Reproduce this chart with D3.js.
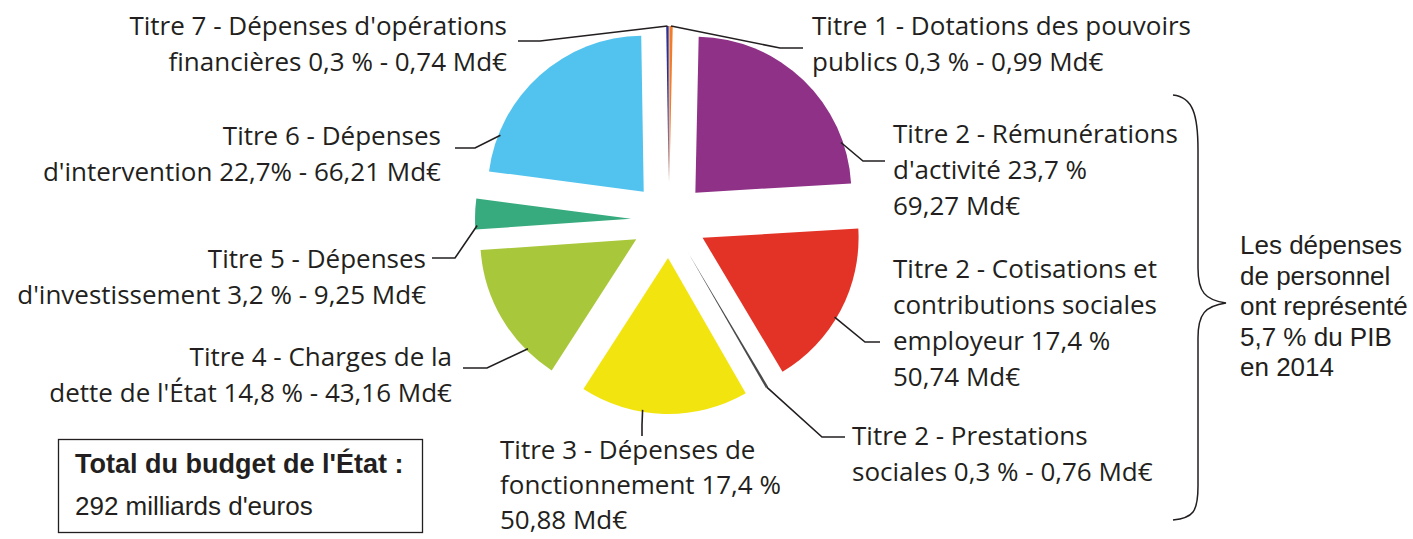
<!DOCTYPE html>
<html>
<head>
<meta charset="utf-8">
<script src="https://cdn.jsdelivr.net/npm/d3@7"></script>
<style>
  body { margin: 0; background: #fff; }
  svg { display: block; }
  .lbl { font-family: "Open Sans", sans-serif; font-size: 26px; fill: #231f20; }
  .note { font-family: "Liberation Sans", Arial, sans-serif; font-size: 26px; fill: #231f20; }
</style>
</head>
<body>
<script>
// budget de l'Etat 2014, en Md€
var titres = ["Titre 1", "Titre 2 Rém.", "Titre 2 Cotis.", "Titre 2 Prest.", "Titre 3",
              "Titre 4", "Titre 5", "Titre 6", "Titre 7"];
var montants = [0.99, 69.27, 50.74, 0.76, 50.88, 43.16, 9.25, 66.21, 0.74];
var couleurs = ["#f07d2b", "#8e3187", "#e33326", "#4a4a4a", "#f2e40e",
                "#a8c73a", "#37ab7e", "#52c3ee", "#2e3192"];
var etiquettes = [
  ["Titre 1 - Dotations des pouvoirs", "publics 0,3 % - 0,99 Md€"],
  ["Titre 2 - Rémunérations", "d'activité 23,7 %", "69,27 Md€"],
  ["Titre 2 - Cotisations et", "contributions sociales", "employeur 17,4 %", "50,74 Md€"],
  ["Titre 2 - Prestations", "sociales 0,3 % - 0,76 Md€"],
  ["Titre 3 - Dépenses de", "fonctionnement 17,4 %", "50,88 Md€"],
  ["Titre 4 - Charges de la", "dette de l'État 14,8 % - 43,16 Md€"],
  ["Titre 5 - Dépenses", "d'investissement 3,2 % - 9,25 Md€"],
  ["Titre 6 - Dépenses", "d'intervention 22,7% - 66,21 Md€"],
  ["Titre 7 - Dépenses d'opérations", "financières 0,3 % - 0,74 Md€"]
];
var total = ["Total du budget de l'État :", "292 milliards d'euros"];
var note = ["Les dépenses", "de personnel", "ont représenté", "5,7 % du PIB", "en 2014"];

// placement des étiquettes : angle du départ du trait (deg), coude, fin, texte
var placement = [
  {a: null, coude: [780, 48], fin: [803, 48], x: 812, y: 35, ancre: "start"},
  {a: 71, coude: [863, 161], fin: [885, 161], x: 893, y: 143, ancre: "start"},
  {a: 121, coude: [865, 342], fin: [880, 342], x: 893, y: 278, ancre: "start"},
  {a: null, coude: [822, 437], fin: [845, 437], x: 852, y: 445, ancre: "start"},
  {a: 189.5, coude: [642, 425], fin: [642, 436], x: 500, y: 459, ancre: "start", pas: 35},
  {a: 224.7, coude: [487, 368], fin: [463, 368], x: 452, y: 366, ancre: "end"},
  {a: 267.5, coude: [455, 258], fin: [432, 258], x: 426, y: 268, ancre: "end"},
  {a: 291.5, coude: [475, 148], fin: [455, 148], x: 441, y: 145, ancre: "end"},
  {a: null, coude: [540, 41], fin: [518, 41], x: 507, y: 35, ancre: "end"}
];

var W = 1413, H = 539;
var cx = 669, cy = 220, R = 156, ecart = 38, interligne = 36;

var svg = d3.select("body").append("svg")
    .attr("width", W)
    .attr("height", H);

var pie = d3.pie().sort(null).value(function(d) { return d; });
var arc = d3.arc().innerRadius(0).outerRadius(R);
var arcs = pie(montants);

function decal(d) {
  var m = (d.startAngle + d.endAngle) / 2;
  return [cx + ecart * Math.sin(m), cy - ecart * Math.cos(m)];
}

var g = svg.append("g");
g.selectAll("path.part")
    .data(arcs)
  .enter().append("path")
    .attr("class", "part")
    .attr("d", arc)
    .attr("transform", function(d) { var p = decal(d); return "translate(" + p[0] + "," + p[1] + ")"; })
    .attr("fill", function(d, i) { return couleurs[i]; });

// traits de rappel
g.selectAll("path.trait")
    .data(arcs)
  .enter().append("path")
    .attr("class", "trait")
    .attr("fill", "none")
    .attr("stroke", "#231f20")
    .attr("stroke-width", 1.6)
    .attr("d", function(d, i) {
      var pl = placement[i];
      var a = pl.a == null ? (d.startAngle + d.endAngle) / 2 : pl.a * Math.PI / 180;
      var o = decal(d);
      var r = pl.a == null ? R : R - 2;
      var x0 = o[0] + r * Math.sin(a), y0 = o[1] - r * Math.cos(a);
      return d3.line()([[x0, y0], pl.coude, pl.fin]);
    });

// étiquettes
etiquettes.forEach(function(lignes, i) {
  var pl = placement[i];
  var pas = pl.pas || interligne;
  var t = svg.append("text")
      .attr("class", "lbl")
      .attr("text-anchor", pl.ancre);
  lignes.forEach(function(l, k) {
    t.append("tspan")
        .attr("x", pl.x)
        .attr("y", pl.y + k * pas)
        .text(l);
  });
});

// encadré total
svg.append("rect")
    .attr("x", 58.5).attr("y", 439.5)
    .attr("width", 364).attr("height", 93)
    .attr("fill", "none")
    .attr("stroke", "#231f20")
    .attr("stroke-width", 1.3);
svg.append("text")
    .attr("class", "note")
    .attr("x", 75).attr("y", 473)
    .style("font-weight", "bold")
    .style("font-size", "27px")
    .text(total[0]);
svg.append("text")
    .attr("class", "note")
    .attr("x", 75).attr("y", 515)
    .style("font-size", "26px")
    .text(total[1]);

// accolade des dépenses de personnel
svg.append("path")
    .attr("fill", "none")
    .attr("stroke", "#231f20")
    .attr("stroke-width", 1.5)
    .attr("d", "M1173,95 C1193,97 1198,115 1198,150 L1198,268 C1198,292 1205,300 1226,303 " +
               "C1205,306 1198,314 1198,338 L1198,486 C1198,512 1193,518 1173,520");

var tn = svg.append("text").attr("class", "note");
note.forEach(function(l, k) {
  tn.append("tspan").attr("x", 1240).attr("y", 254 + k * 30.5).text(l);
});
</script>
</body>
</html>
